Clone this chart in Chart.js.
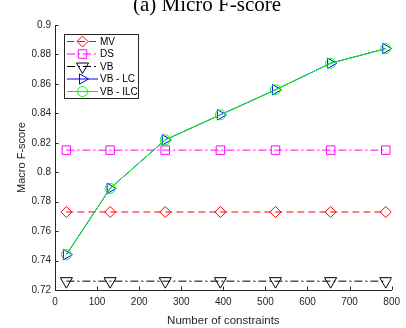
<!DOCTYPE html>
<html>
<head>
<meta charset="utf-8">
<script src="https://cdn.jsdelivr.net/npm/chart.js@4/dist/chart.umd.min.js"></script>
<style>
html,body{margin:0;padding:0;background:#fff;}
#wrap{position:relative;width:406px;height:328px;}
</style>
</head>
<body>
<div id="wrap"><canvas id="c" width="406" height="328"></canvas></div>
<script>
const titleText = "(a) Micro F-score";
const xTitle = "Number of constraints";
const yTitle = "Macro F-score";
const constraints = [27, 131, 262, 393, 524, 655, 786];
const seriesNames = ["MV", "DS", "VB", "VB - LC", "VB - ILC"];
const mv    = [0.773, 0.773, 0.773, 0.773, 0.773, 0.773, 0.773];
const ds    = [0.815, 0.815, 0.815, 0.815, 0.815, 0.815, 0.815];
const vb    = [0.726, 0.726, 0.726, 0.726, 0.726, 0.726, 0.726];
const vbLc  = [0.744, 0.789, 0.822, 0.839, 0.856, 0.874, 0.884];
const vbIlc = [0.744, 0.789, 0.822, 0.839, 0.856, 0.874, 0.884];
const xTicks = [0, 100, 200, 300, 400, 500, 600, 700, 800];
const yTicks = [0.72, 0.74, 0.76, 0.78, 0.8, 0.82, 0.84, 0.86, 0.88, 0.9];

const AX = '#262626';
const FONT = "'Liberation Sans', Arial, sans-serif";

function pts(arr){ return arr.map((v,i)=>({x:constraints[i], y:v})); }

const styles = [
  {data: mv,    color:'#ff0000', dash:[7,4],       ps:'rectRot',  rot:0,   r:5.5, order:5},
  {data: ds,    color:'#ff00ff', dash:[8,3,2,3],   ps:'rect',     rot:0,   r:6,   order:4},
  {data: vb,    color:'#000000', dash:[8,3,2,3],   ps:'triangle', rot:180, r:7,   order:3},
  {data: vbLc,  color:'#0000ff', dash:[],          ps:'triangle', rot:90,  r:6,   order:2},
  {data: vbIlc, color:'#00ff00', dash:[],          ps:'circle',   rot:0,   r:5,   order:1}
];

const datasets = styles.map((s,i)=>({
  label: seriesNames[i],
  data: pts(s.data),
  borderColor: s.color,
  backgroundColor: 'rgba(0,0,0,0)',
  borderWidth: 1,
  borderDash: s.dash,
  pointStyle: s.ps,
  rotation: s.rot,
  pointRadius: s.r,
  pointBorderColor: s.color,
  pointBackgroundColor: 'rgba(0,0,0,0)',
  pointBorderWidth: 1,
  tension: 0,
  order: s.order
}));

function drawMarker(ctx, style, r, rot, x, y){
  if (Chart.helpers && Chart.helpers.drawPoint) {
    Chart.helpers.drawPoint(ctx, {pointStyle: style, rotation: rot, radius: r, borderWidth: 1}, x, y);
    return;
  }
  ctx.beginPath(); ctx.arc(x,y,r,0,Math.PI*2); ctx.stroke();
}

const decor = {
  id: 'decor',
  beforeDatasetsDraw(chart){
    const ctx = chart.ctx, xs = chart.scales.x, ys = chart.scales.y, a = chart.chartArea;
    ctx.save();
    ctx.strokeStyle = AX; ctx.lineWidth = 1;
    ctx.beginPath();
    xTicks.forEach(v=>{ const px = Math.round(xs.getPixelForValue(v))+0.5; ctx.moveTo(px, a.bottom); ctx.lineTo(px, a.bottom-3.5); });
    yTicks.forEach(v=>{ const py = Math.round(ys.getPixelForValue(v))+0.5; ctx.moveTo(a.left, py); ctx.lineTo(a.left+3.5, py); });
    ctx.stroke();
    ctx.restore();
  },
  afterDraw(chart){
    const ctx = chart.ctx;
    ctx.save();
    // title
    ctx.fillStyle = '#000';
    ctx.font = "21px 'Liberation Serif', 'DejaVu Serif', serif";
    ctx.textAlign = 'center'; ctx.textBaseline = 'alphabetic';
    ctx.fillText(titleText, 207, 11);
    // legend
    const bx = 64.5, by = 34.5, bw = 74, bh = 64;
    ctx.fillStyle = '#fff';
    ctx.fillRect(bx, by, bw, bh);
    ctx.strokeStyle = AX; ctx.lineWidth = 1; ctx.setLineDash([]);
    ctx.strokeRect(bx, by, bw, bh);
    chart.data.datasets.forEach((d,i)=>{
      const y = 41.5 + i*12.5;
      ctx.strokeStyle = d.borderColor; ctx.lineWidth = 1;
      ctx.setLineDash(d.borderDash || []);
      ctx.beginPath(); ctx.moveTo(67, y); ctx.lineTo(98, y); ctx.stroke();
      ctx.setLineDash([]);
      ctx.fillStyle = 'rgba(0,0,0,0)';
      drawMarker(ctx, d.pointStyle, d.pointRadius, d.rotation, 82.5, y);
      ctx.fillStyle = '#000';
      ctx.font = "10px " + FONT;
      ctx.textAlign = 'left'; ctx.textBaseline = 'middle';
      ctx.fillText(d.label, 100, y+0.5);
    });
    ctx.restore();
  }
};

new Chart(document.getElementById('c'), {
  type: 'line',
  data: { datasets },
  options: {
    responsive: false,
    animation: false,
    devicePixelRatio: 1,
    layout: { padding: { top: 25, right: 13, left: 15, bottom: 0 } },
    plugins: { legend: { display: false }, tooltip: { enabled: false }, title: { display: false } },
    scales: {
      x: {
        type: 'linear', min: 0, max: 800,
        afterBuildTicks(s){ s.ticks = xTicks.map(v=>({value:v})); },
        afterFit(s){ s.height = 38; },
        grid: { display: false, drawTicks: false },
        border: { display: true, color: AX, width: 1 },
        ticks: { color: AX, font: { family: FONT, size: 10 }, padding: 6, maxRotation: 0, autoSkip: false,
                 callback: v => String(v) },
        title: { display: true, text: xTitle, color: AX, font: { family: FONT, size: 11.5 }, padding: { top: 0, bottom: 0 } }
      },
      y: {
        type: 'linear', min: 0.72, max: 0.9,
        afterBuildTicks(s){ s.ticks = yTicks.map(v=>({value:v})); },
        afterFit(s){ s.width = 40; },
        grid: { display: false, drawTicks: false },
        border: { display: true, color: AX, width: 1 },
        ticks: { color: AX, font: { family: FONT, size: 10 }, padding: 4, autoSkip: false,
                 callback: v => String(parseFloat(v.toFixed(2))) },
        title: { display: true, text: yTitle, color: AX, font: { family: FONT, size: 11 }, padding: { top: 0, bottom: 2 } }
      }
    }
  },
  plugins: [decor]
});
</script>
</body>
</html>
